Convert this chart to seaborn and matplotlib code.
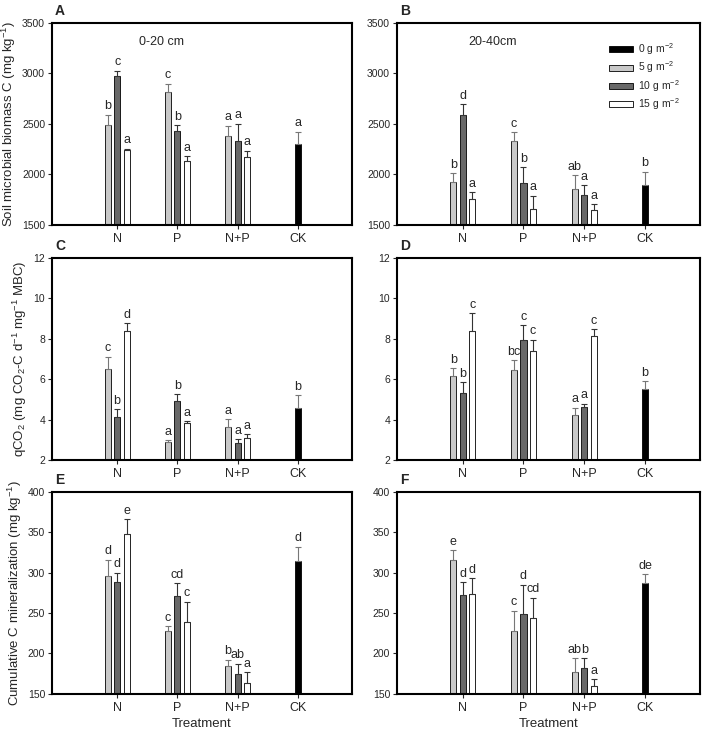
import numpy as np
import pandas as pd
import seaborn as sns
import matplotlib
matplotlib.use("Agg")
import matplotlib.pyplot as plt
from matplotlib.patches import Patch

# categories
groups = ["N", "P", "N+P"]
order = ["N", "P", "N+P", "CK"]
rates = ["5", "10", "15"]

# rows = N, P, N+P ; columns = 5, 10, 15 g m-2
# A: microbial biomass C, 0-20 cm
a_mean = [[2490, 2975, 2242], [2811, 2434, 2129], [2381, 2335, 2173]]
a_err = [[100, 50, 10], [86, 53, 53], [99, 165, 63]]
a_let = [["b", "c", "a"], ["c", "b", "a"], ["a", "a", "a"]]
a_ck = [2301, 123, "a"]

# B: microbial biomass C, 20-40 cm
b_mean = [[1924, 2589, 1758], [2328, 1914, 1656], [1857, 1795, 1646]]
b_err = [[89, 103, 66], [89, 155, 132], [133, 96, 59]]
b_let = [["b", "d", "a"], ["c", "b", "a"], ["ab", "a", "a"]]
b_ck = [1894, 132, "b"]

# C: qCO2, 0-20 cm
c_mean = [[6.5, 4.12, 8.41], [2.92, 4.93, 3.85], [3.62, 2.86, 3.08]]
c_err = [[0.62, 0.39, 0.35], [0.07, 0.33, 0.08], [0.4, 0.18, 0.2]]
c_let = [["c", "b", "d"], ["a", "b", "a"], ["a", "a", "a"]]
c_ck = [4.57, 0.65, "b"]

# D: qCO2, 20-40 cm
d_mean = [[6.18, 5.33, 8.38], [6.48, 7.93, 7.39], [4.21, 4.64, 8.13]]
d_err = [[0.38, 0.52, 0.9], [0.46, 0.74, 0.57], [0.38, 0.14, 0.36]]
d_let = [["b", "b", "c"], ["bc", "c", "c"], ["a", "a", "c"]]
d_ck = [5.53, 0.37, "b"]

# E: cumulative C mineralization, 0-20 cm
e_mean = [[296, 288, 348], [228, 271, 239], [185, 174, 164]]
e_err = [[20, 12, 18], [6, 16, 25], [7, 13, 13]]
e_let = [["d", "d", "e"], ["c", "cd", "c"], ["b", "ab", "a"]]
e_ck = [314, 18, "d"]

# F: cumulative C mineralization, 20-40 cm
f_mean = [[316, 272, 273], [228, 249, 244], [177, 182, 160]]
f_err = [[12, 16, 20], [25, 36, 25], [17, 12, 8]]
f_let = [["e", "d", "d"], ["c", "d", "cd"], ["ab", "b", "a"]]
f_ck = [287, 11, "de"]

bar_colors = ["#c8c8c8", "#686868", "#ffffff"]

sns.set_style("white")
plt.rcParams["font.family"] = ["Liberation Sans", "DejaVu Sans"]
plt.rcParams["mathtext.fontset"] = "custom"
plt.rcParams["mathtext.rm"] = "Liberation Sans"
plt.rcParams["mathtext.default"] = "regular"


def panel(ax, means, errs, lets, ck, ylim, yticks):
    rows = []
    for gi, g in enumerate(groups):
        for ri, r in enumerate(rates):
            rows.append({"treatment": g, "rate": r, "value": means[gi][ri]})
    df = pd.DataFrame(rows)
    ck_df = pd.DataFrame({"treatment": ["CK"], "value": [ck[0]]})

    sns.barplot(data=df, x="treatment", y="value", hue="rate", order=order,
                hue_order=rates, palette=bar_colors, width=0.47, gap=0.35,
                errorbar=None, saturation=1, edgecolor="black", linewidth=0.6,
                legend=False, ax=ax)
    sns.barplot(data=ck_df, x="treatment", y="value", order=order,
                color="black", width=0.1, errorbar=None, saturation=1,
                edgecolor="black", linewidth=0.6, ax=ax)

    pad = (ylim[1] - ylim[0]) * 0.012
    for ri, cont in enumerate(ax.containers[:3]):
        for bar in cont:
            x = bar.get_x() + bar.get_width() / 2
            gi = int(round(x))
            if gi > 2:
                continue
            top = bar.get_height()
            err = errs[gi][ri]
            ec = "#777777" if ri == 0 else "#333333"
            ax.errorbar(x, top, yerr=[[0], [err]], fmt="none", ecolor=ec,
                        elinewidth=0.8, capsize=2.2, capthick=0.8)
            ax.text(x, top + err + pad, lets[gi][ri], ha="center",
                    va="bottom", fontsize=9)
    bar = ax.containers[3][0]
    x = bar.get_x() + bar.get_width() / 2
    top = bar.get_height()
    ax.errorbar(x, top, yerr=[[0], [ck[1]]], fmt="none", ecolor="#777777",
                elinewidth=0.8, capsize=2.2, capthick=0.8)
    ax.text(x, top + ck[1] + pad, ck[2], ha="center", va="bottom", fontsize=9)

    ax.set_xlim(-1.08, 3.9)
    ax.set_ylim(*ylim)
    ax.set_yticks(yticks)
    ax.set_xlabel("")
    ax.set_ylabel("")
    ax.tick_params(axis="y", labelsize=7.5, length=3, width=0.8,
                   direction="out", left=True, pad=2)
    ax.tick_params(axis="x", labelsize=9, length=3, width=0.8,
                   direction="out", bottom=True, pad=3)
    for s in ax.spines.values():
        s.set_linewidth(1.5)
        s.set_color("black")


fig = plt.figure(figsize=(7.04, 7.35), dpi=100)
ax_a = fig.add_axes([0.074, 0.694, 0.426, 0.275])
ax_b = fig.add_axes([0.564, 0.694, 0.430, 0.275])
ax_c = fig.add_axes([0.074, 0.374, 0.426, 0.275])
ax_d = fig.add_axes([0.564, 0.374, 0.430, 0.275])
ax_e = fig.add_axes([0.074, 0.056, 0.426, 0.275])
ax_f = fig.add_axes([0.564, 0.056, 0.430, 0.275])

mbc_ticks = [1500, 2000, 2500, 3000, 3500]
q_ticks = [2, 4, 6, 8, 10, 12]
cm_ticks = [150, 200, 250, 300, 350, 400]

panel(ax_a, a_mean, a_err, a_let, a_ck, (1500, 3500), mbc_ticks)
panel(ax_b, b_mean, b_err, b_let, b_ck, (1500, 3500), mbc_ticks)
panel(ax_c, c_mean, c_err, c_let, c_ck, (2, 12), q_ticks)
panel(ax_d, d_mean, d_err, d_let, d_ck, (2, 12), q_ticks)
panel(ax_e, e_mean, e_err, e_let, e_ck, (150, 400), cm_ticks)
panel(ax_f, f_mean, f_err, f_let, f_ck, (150, 400), cm_ticks)

for ax, lab in zip([ax_a, ax_b, ax_c, ax_d, ax_e, ax_f], "ABCDEF"):
    ax.text(0.01, 1.06, lab, transform=ax.transAxes, fontsize=10,
            fontweight="bold", ha="left", va="center")

ax_a.text(0.29, 0.905, "0-20 cm", transform=ax_a.transAxes, fontsize=9,
          va="center")
ax_b.text(0.235, 0.905, "20-40cm", transform=ax_b.transAxes, fontsize=9,
          va="center")

ax_a.set_ylabel("Soil microbial biomass C (mg kg$^{-1}$)", fontsize=9.5,
                labelpad=3)
ax_c.set_ylabel("qCO$_2$ (mg CO$_2$-C d$^{-1}$ mg$^{-1}$ MBC)", fontsize=9.5,
                labelpad=3)
ax_e.set_ylabel("Cumulative C mineralization (mg kg$^{-1}$)", fontsize=9.5,
                labelpad=3)
ax_e.set_xlabel("Treatment", fontsize=9.5, labelpad=3)
ax_f.set_xlabel("Treatment", fontsize=9.5, labelpad=3)

handles = [Patch(facecolor=c, edgecolor="black", linewidth=0.6)
           for c in ["black"] + bar_colors]
labels = ["0 g m$^{-2}$", "5 g m$^{-2}$", "10 g m$^{-2}$", "15 g m$^{-2}$"]
ax_b.legend(handles, labels, loc="upper left", bbox_to_anchor=(0.685, 0.93),
            frameon=False, fontsize=7.5, handlelength=2.3, handleheight=0.5,
            labelspacing=0.25, handletextpad=0.5, borderaxespad=0)

fig.savefig("out.png", dpi=100)
